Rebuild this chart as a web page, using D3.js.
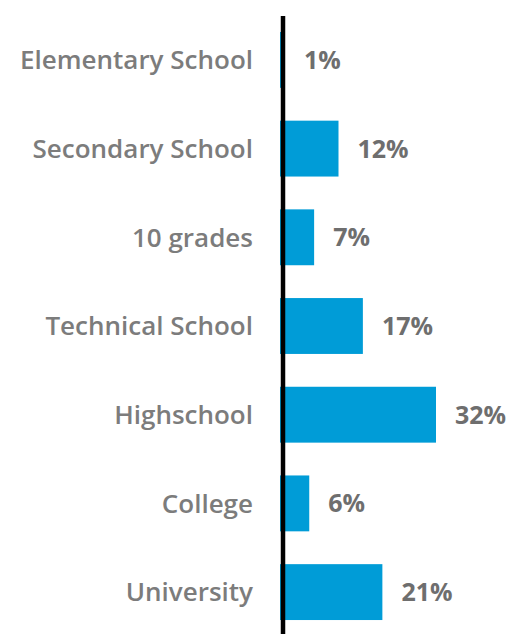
<!DOCTYPE html>
<html>
<head>
<meta charset="utf-8">
<script src="https://cdn.jsdelivr.net/npm/d3@7"></script>
<style>
  html, body { margin: 0; padding: 0; background: #fff; }
  svg { display: block; }
</style>
</head>
<body>
<svg id="chart" width="510" height="634"></svg>
<script>
// Education level shares (percent)
const categories = ["Elementary School", "Secondary School", "10 grades", "Technical School", "Highschool", "College", "University"];
const values = [1, 12, 7, 17, 32, 6, 21];

const svg = d3.select("#chart");
const W = 510, H = 634;
const axisX = 283;

// bars start just under the axis line
const x = d3.scaleLinear().domain([0, 32]).range([280, 436]);
const y = d3.scaleBand().domain(categories).range([16, 636]).paddingInner(0.37).paddingOuter(0.18);

const font = "'Open Sans', Lato, sans-serif";

// bars
svg.selectAll("rect.bar").data(values).join("rect")
  .attr("class", "bar")
  .attr("x", x(0))
  .attr("y", (d, i) => y(categories[i]))
  .attr("width", d => x(d) - x(0))
  .attr("height", y.bandwidth())
  .attr("fill", "#009cd7");

// value labels
svg.selectAll("text.val").data(values).join("text")
  .attr("class", "val")
  .attr("x", d => x(d) + 19)
  .attr("y", (d, i) => y(categories[i]) + y.bandwidth() / 2)
  .attr("dy", "0.36em")
  .attr("font-family", font)
  .attr("font-weight", "bold")
  .attr("font-size", 25)
  .attr("fill", "#6e6e6e")
  .text(d => d + "%");

// category labels
svg.selectAll("text.cat").data(categories).join("text")
  .attr("class", "cat")
  .attr("x", 253)
  .attr("y", d => y(d) + y.bandwidth() / 2)
  .attr("dy", "0.36em")
  .attr("text-anchor", "end")
  .attr("font-family", font)
  .attr("font-weight", 600)
  .attr("font-size", 26)
  .attr("fill", "#7c7c7c")
  .text(d => d);

// vertical axis line
svg.append("line")
  .attr("x1", axisX).attr("x2", axisX)
  .attr("y1", 16).attr("y2", H)
  .attr("stroke", "#000")
  .attr("stroke-width", 4.5);
</script>
</body>
</html>
